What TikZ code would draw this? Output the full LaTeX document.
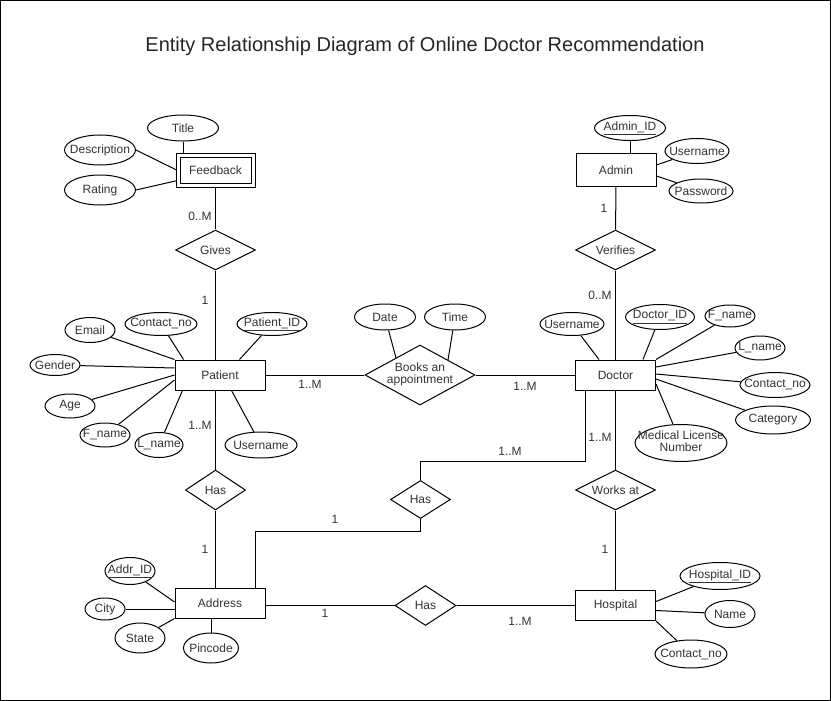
\documentclass[tikz,border=0pt]{standalone}
\usepackage{fontspec}
\setmainfont{Liberation Sans}
\usetikzlibrary{shapes.geometric,calc,backgrounds}
\newcommand{\zb}[1]{\makebox[0pt]{#1}}
\begin{document}
\begin{tikzpicture}[x=1pt,y=-1pt,
  every node/.style={font=\fontsize{12}{14}\selectfont, text=black!80},
  base/.style={draw=black, line width=1pt, fill=white, inner sep=0pt},
  ent/.style 2 args={base, rectangle, minimum width=#1, minimum height=#2},
  attr/.style 2 args={base, ellipse, minimum width=#1, minimum height=#2},
  rel/.style 2 args={base, diamond, minimum width=#1, minimum height=#2},
  conn/.style={draw=black, line width=1pt},
  card/.style={inner sep=0pt}
]
\useasboundingbox (0,0) rectangle (831,701);
\draw[line width=1pt] (0.5,0.5) rectangle (830.5,700.5);

\node[font=\fontsize{20}{24}\selectfont, text=black!85] (ttl) at (425,46) {Entity Relationship Diagram of Online Doctor Recommendation};

% Feedback
\node[base, double, double distance=3pt, minimum width=75pt, minimum height=30pt] (fb) at (215.5,170.5) {\zb{Feedback}};
\node[attr={71pt}{26pt}] (ftitle) at (183,128) {\zb{Title}};
\node[attr={71pt}{30pt}] (desc) at (100,150) {\zb{Description}};
\node[attr={71pt}{30pt}] (rating) at (100,190) {\zb{Rating}};
\node[rel={80pt}{40pt}] (gives) at (215.5,250) {\zb{Gives}};

% Admin
\node[ent={80pt}{33pt}] (admin) at (616,170) {\zb{Admin}};
\node[attr={71pt}{25pt}] (adminid) at (630,128) {\zb{\underline{Admin\_ID}}};
\node[attr={64pt}{25pt}] (auser) at (697,151) {\zb{Username}};
\node[attr={64pt}{24pt}] (apass) at (701,191) {\zb{Password}};
\node[rel={80pt}{40pt}] (verifies) at (615.5,250) {\zb{Verifies}};

% Patient
\node[ent={90pt}{30pt}] (patient) at (220,375) {\zb{Patient}};
\node[attr={50pt}{25pt}] (email) at (90,330) {\zb{Email}};
\node[attr={72pt}{23pt}] (pcontact) at (161,324) {\zb{Contact\_no}};
\node[attr={70pt}{23pt}] (pid) at (272,324) {\zb{\underline{Patient\_ID}}};
\node[attr={50pt}{21pt}] (gender) at (55,365) {\zb{Gender}};
\node[attr={50pt}{24pt}] (age) at (70,406) {\zb{Age}};
\node[attr={50pt}{24pt}] (pfname) at (105,435) {\zb{F\_name}};
\node[attr={48pt}{25pt}] (plname) at (159,445) {\zb{L\_name}};
\node[attr={72pt}{26pt}] (puser) at (261,445) {\zb{Username}};

% Books
\node[rel={110pt}{60pt}] (books) at (420,375) {\zb{\begin{tabular}{@{}c@{}}Books an\\[-2pt]appointment\end{tabular}}};
\node[attr={61pt}{26pt}] (date) at (385,317) {\zb{Date}};
\node[attr={61pt}{26pt}] (time) at (455,317) {\zb{Time}};

% Doctor
\node[ent={80pt}{30pt}] (doctor) at (615.5,375) {\zb{Doctor}};
\node[attr={64pt}{23pt}] (duser) at (572,324) {\zb{Username}};
\node[attr={69pt}{25pt}] (did) at (660,317) {\zb{\underline{Doctor\_ID}}};
\node[attr={50pt}{22pt}] (dfname) at (730,316) {\zb{F\_name}};
\node[attr={50pt}{24pt}] (dlname) at (760,348) {\zb{L\_name}};
\node[attr={70pt}{25pt}] (dcontact) at (775,385) {\zb{Contact\_no}};
\node[attr={75pt}{28pt}] (dcat) at (773,420) {\zb{Category}};
\node[attr={92pt}{37pt}] (dmed) at (681,443) {\zb{\begin{tabular}{@{}c@{}}Medical License\\[-2pt]Number\end{tabular}}};

% Relationships in the middle
\node[rel={60pt}{40pt}] (hasl) at (215.5,490) {\zb{Has}};
\node[rel={60pt}{38pt}] (hasm) at (420.5,499.5) {\zb{Has}};
\node[rel={80pt}{40pt}] (works) at (615.5,490) {\zb{Works at}};

% Address
\node[ent={90pt}{30pt}] (address) at (220,603) {\zb{Address}};
\node[attr={50pt}{27pt}] (addrid) at (130,571) {\zb{\underline{Addr\_ID}}};
\node[attr={40pt}{22pt}] (city) at (105,609) {\zb{City}};
\node[attr={50pt}{30pt}] (state) at (140,638) {\zb{State}};
\node[attr={55pt}{30pt}] (pincode) at (211,648) {\zb{Pincode}};

\node[rel={61pt}{40pt}] (hasb) at (425.5,605.5) {\zb{Has}};

% Hospital
\node[ent={80pt}{30pt}] (hospital) at (615.5,605.5) {\zb{Hospital}};
\node[attr={80pt}{27pt}] (hid) at (720,576) {\zb{\underline{Hospital\_ID}}};
\node[attr={50pt}{27pt}] (hname) at (730,614) {\zb{Name}};
\node[attr={72pt}{28pt}] (hcontact) at (691,654) {\zb{Contact\_no}};

% Cardinalities
\node[card] (c1) at (200,216) {0..M};
\node[card] (c2) at (205,300) {1};
\node[card] (c3) at (604,208) {1};
\node[card] (c4) at (600,295) {0..M};
\node[card] (c5) at (310,384) {1..M};
\node[card] (c6) at (525,386) {1..M};
\node[card] (c7) at (200,425) {1..M};
\node[card] (c8) at (600,437) {1..M};
\node[card] (c9) at (510,451) {1..M};
\node[card] (c10) at (335,519) {1};
\node[card] (c11) at (205,549) {1};
\node[card] (c12) at (605,549) {1};
\node[card] (c13) at (325,613) {1};
\node[card] (c14) at (520,621) {1..M};

\begin{pgfonlayer}{background}
% feedback
\draw[conn] (ftitle.south) -- (ftitle.south |- fb.north);
\draw[conn] (desc.east) -- (fb.west);
\draw[conn] (rating.east) -- ($(fb.west)+(0,10)$);
\draw[conn] (fb) -- (gives);
\draw[conn] (gives) -- (gives |- patient.north);
% admin
\draw[conn] (adminid.south) -- (adminid.south |- admin.north);
\draw[conn] ($(admin.east)+(0,-5)$) -- (auser);
\draw[conn] ($(admin.east)+(0,6)$) -- (apass);
\draw[conn] (admin) -- (verifies);
\draw[conn] (verifies) -- (doctor);
% patient
\draw[conn] (email) -- (patient.north west);
\draw[conn] (pcontact) -- ($(patient.north west)+(9,0)$);
\draw[conn] (pid) -- ($(patient.north west)+(65,0)$);
\draw[conn] (gender) -- ($(patient.west)+(0,-7)$);
\draw[conn] (age) -- (patient.west);
\draw[conn] (pfname) -- ($(patient.west)+(0,5)$);
\draw[conn] (plname) -- ($(patient.south west)+(8,0)$);
\draw[conn] (puser) -- ($(patient.south west)+(57,0)$);
% books
\draw[conn] (patient) -- (books);
\draw[conn] (books) -- (doctor);
\draw[conn] (date) -- ($(books)+(-24,-17)$);
\draw[conn] (time) -- ($(books)+(28,-15)$);
% doctor
\draw[conn] (duser) -- ($(doctor.north west)+(24,0)$);
\draw[conn] (did) -- ($(doctor.north west)+(68,0)$);
\draw[conn] (dfname) -- (doctor.north east);
\draw[conn] (dlname) -- ($(doctor.east)+(0,-8)$);
\draw[conn] (dcontact) -- ($(doctor.east)+(0,-1)$);
\draw[conn] (dcat) -- ($(doctor.east)+(0,4)$);
\draw[conn] (dmed) -- ($(doctor.east)+(0,9)$);
\draw[conn] (doctor) -- (works);
\draw[conn] (works) -- (hospital);
\draw[conn] ($(doctor.south west)+(10,0)$) -- ++(0,71) -| (hasm.north);
\draw[conn] (hasm.south) -- ++(0,12) -| ($(address.north)+(35,0)$);
% patient-address
\draw[conn] (hasl) -- (hasl |- patient.south);
\draw[conn] (hasl) -- (hasl |- address.north);
% address
\draw[conn] (addrid) -- ($(address.west)+(0,-1)$);
\draw[conn] (city) -- ($(address.west)+(0,6)$);
\draw[conn] (state) -- (address.south west);
\draw[conn] (pincode) -- (pincode |- address.south);
\draw[conn] (hasb.west) -- (hasb.west -| address.east);
\draw[conn] (hasb) -- (hospital);
% hospital
\draw[conn] (hid) -- ($(hospital.east)+(0,-4)$);
\draw[conn] (hname) -- ($(hospital.east)+(0,5)$);
\draw[conn] (hcontact) -- (hospital.south east);
\end{pgfonlayer}
\end{tikzpicture}
\end{document}
